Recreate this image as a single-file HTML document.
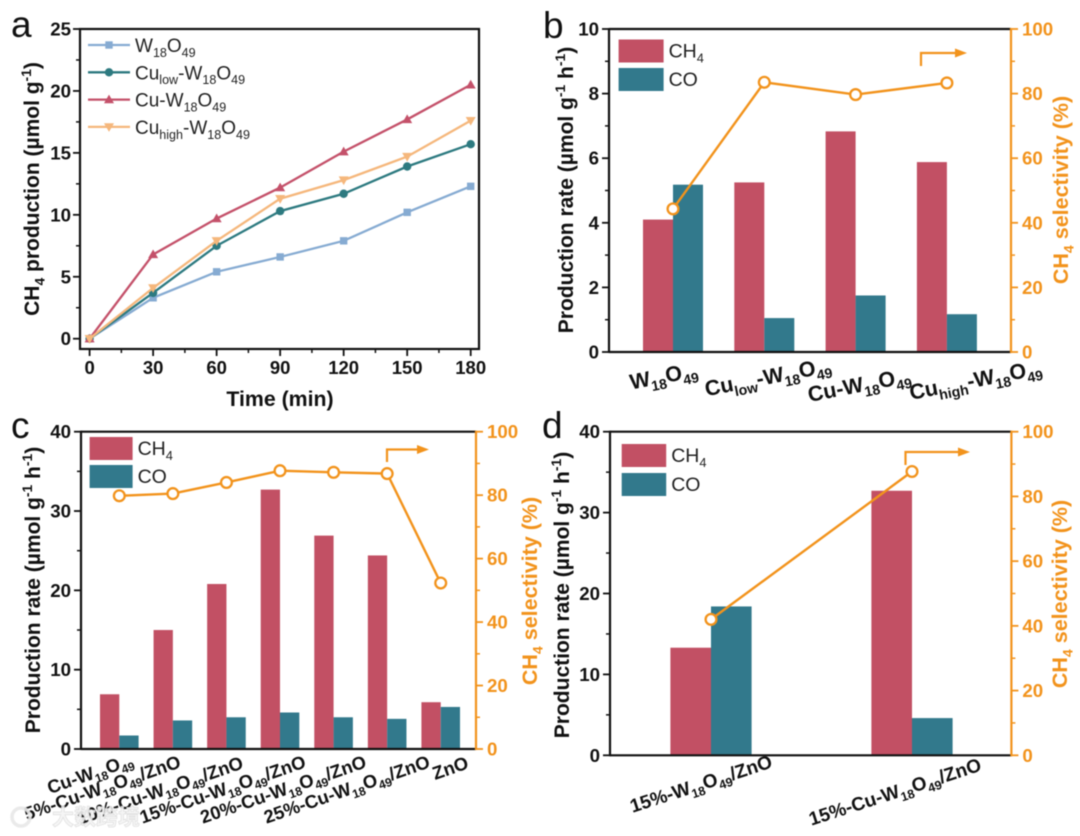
<!DOCTYPE html>
<html lang="en">
<head>
<meta charset="utf-8">
<title>CH4 production and selectivity charts</title>
<style>
html,body{margin:0;padding:0;background:#fff;width:1080px;height:836px;overflow:hidden}
#fig{display:block;filter:blur(0.45px)}
text{font-family:"Liberation Sans","Noto Sans CJK SC",sans-serif}
</style>
</head>
<body>
<svg id="fig" xmlns="http://www.w3.org/2000/svg" width="1080" height="836" viewBox="0 0 1080 836"></svg>
<script>
// ---------- Panel a data ----------
const timeCategories = [0, 30, 60, 90, 120, 150, 180];
const seriesW18O49 = [0, 3.3, 5.4, 6.6, 7.9, 10.2, 12.3];
const seriesCuLow = [0, 3.7, 7.5, 10.3, 11.7, 13.9, 15.7];
const seriesCu = [0, 6.8, 9.7, 12.2, 15.1, 17.7, 20.5];
const seriesCuHigh = [0, 4.1, 7.9, 11.3, 12.8, 14.7, 17.6];
const panelAYTicks = [0, 5, 10, 15, 20, 25];

// ---------- Panel b data ----------
const panelBCategories = ['W_{18}O_{49}', 'Cu_{low}-W_{18}O_{49}', 'Cu-W_{18}O_{49}', 'Cu_{high}-W_{18}O_{49}'];
const panelBCH4 = [4.1, 5.25, 6.83, 5.88];
const panelBCO = [5.18, 1.05, 1.75, 1.17];
const panelBSelectivity = [44.3, 83.5, 79.7, 83.3];
const panelBYTicks = [0, 2, 4, 6, 8, 10];

// ---------- Panel c data ----------
const panelCCategories = ['Cu-W_{18}O_{49}', '5%-Cu-W_{18}O_{49}/ZnO', '10%-Cu-W_{18}O_{49}/ZnO', '15%-Cu-W_{18}O_{49}/ZnO', '20%-Cu-W_{18}O_{49}/ZnO', '25%-Cu-W_{18}O_{49}/ZnO', 'ZnO'];
const panelCCH4 = [6.9, 15, 20.8, 32.7, 26.9, 24.4, 5.9];
const panelCCO = [1.7, 3.6, 4.0, 4.6, 4.0, 3.8, 5.3];
const panelCSelectivity = [79.8, 80.5, 84, 87.7, 87.2, 86.8, 52.3];
const panelCYTicks = [0, 10, 20, 30, 40];

// ---------- Panel d data ----------
const panelDCategories = ['15%-W_{18}O_{49}/ZnO', '15%-Cu-W_{18}O_{49}/ZnO'];
const panelDCH4 = [13.3, 32.7];
const panelDCO = [18.4, 4.6];
const panelDSelectivity = [42, 87.7];
const panelDYTicks = [0, 10, 20, 30, 40];

const selectivityTicks = [0, 20, 40, 60, 80, 100];

const RED = '#c25064', TEAL = '#32798c', ORANGE = '#f2931c', BLACK = '#111';
const NS = 'http://www.w3.org/2000/svg';
const svg = document.getElementById('fig');

function mk(parent, tagName, attrs, name) {
  const el = document.createElementNS(NS, tagName);
  for (const k in attrs) el.setAttribute(k, attrs[k]);
  
  
  parent.appendChild(el);
  return el;
}

// Builds a text node; "_{..}" marks subscript and "^{..}" superscript runs.
function rich(parent, str, attrs, name) {
  const t = mk(parent, 'text', attrs, name);
  const size = parseFloat(attrs['font-size']);
  const small = size * 0.66;
  const shift = size * 0.26;
  const up = size * 0.38;
  let pending = 0;
  str.split(/(_\{[^}]*\}|\^\{[^}]*\})/).forEach(function (part) {
    if (!part) return;
    const ts = document.createElementNS(NS, 'tspan');
    if (part[0] === '_' && part[1] === '{') {
      ts.textContent = part.slice(2, -1);
      ts.setAttribute('font-size', small);
      ts.setAttribute('dy', pending + shift);
      pending = -shift;
    } else if (part[0] === '^' && part[1] === '{') {
      ts.textContent = part.slice(2, -1);
      ts.setAttribute('font-size', small);
      ts.setAttribute('dy', pending - up);
      pending = up;
    } else {
      ts.textContent = part;
      if (pending) ts.setAttribute('dy', pending);
      pending = 0;
    }
    t.appendChild(ts);
  });
  return t;
}

function linear(d0, d1, r0, r1) {
  return function (v) { return r0 + (v - d0) * (r1 - r0) / (d1 - d0); };
}

function line(p, x1, y1, x2, y2, color, w, name) {
  return mk(p, 'line', { x1: x1, y1: y1, x2: x2, y2: y2, stroke: color, 'stroke-width': w }, name);
}

function panelLetter(letter, x, y) {
  const t = mk(svg, 'text', { x: x, y: y, 'font-size': 37, fill: '#111' }, 'panel-label-' + letter);
  t.textContent = letter;
}

function leftAxis(g, cfg, yScale, ticks) {
  line(g, cfg.left, cfg.top - 1, cfg.left, cfg.bottom + 1, BLACK, 2.2, 'left-axis-line');
  ticks.forEach(function (v, i) {
    const y = yScale(v);
    line(g, cfg.left - 7, y, cfg.left, y, BLACK, 1.8, 'y-tick');
    const t = mk(g, 'text', { x: cfg.left - 10, y: y + 6.5, 'font-size': 18.7, 'font-weight': 'bold', 'text-anchor': 'end', fill: BLACK }, 'y-tick-label');
    t.textContent = v;
    if (i < ticks.length - 1) {
      const m = yScale((v + ticks[i + 1]) / 2);
      line(g, cfg.left - 4, m, cfg.left, m, BLACK, 1.5, 'y-minor-tick');
    }
  });
}

function rightAxis(g, cfg, ySel) {
  line(g, cfg.right, cfg.top - 1, cfg.right, cfg.bottom + 1, ORANGE, 2.2, 'right-axis-line');
  selectivityTicks.forEach(function (v, i) {
    const y = ySel(v);
    line(g, cfg.right, y, cfg.right + 7, y, ORANGE, 1.8, 'selectivity-tick');
    const t = mk(g, 'text', { x: cfg.right + 11, y: y + 6.5, 'font-size': 18.7, 'font-weight': 'bold', fill: ORANGE }, 'selectivity-tick-label');
    t.textContent = v;
    if (i < selectivityTicks.length - 1) {
      const m = ySel(v + 10);
      line(g, cfg.right, m, cfg.right + 4, m, ORANGE, 1.5, 'selectivity-minor-tick');
    }
  });
}

function rotatedTitle(g, str, x, y, size, color, name) {
  rich(g, str, { x: x, y: y, 'font-size': size, 'font-weight': 'bold', fill: color, 'text-anchor': 'middle', transform: 'rotate(-90 ' + x + ' ' + y + ')' }, name);
}

function barPanel(cfg) {
  const g = mk(svg, 'g', {}, cfg.name);
  const yBar = linear(0, cfg.yMax, cfg.bottom, cfg.top);
  const ySel = linear(0, 100, cfg.bottom, cfg.top);
  const xCat = function (i) { return cfg.left + cfg.firstOffset + i * cfg.step; };

  cfg.ch4.forEach(function (v, i) {
    const x = xCat(i);
    mk(g, 'rect', { x: x - cfg.barW, y: yBar(v), width: cfg.barW, height: cfg.bottom - yBar(v), fill: RED }, 'bar-ch4');
    mk(g, 'rect', { x: x, y: yBar(cfg.co[i]), width: cfg.barW, height: cfg.bottom - yBar(cfg.co[i]), fill: TEAL }, 'bar-co');
  });

  line(g, cfg.left, cfg.top, cfg.right, cfg.top, BLACK, 2.2, 'top-axis-line');
  line(g, cfg.left, cfg.bottom, cfg.right, cfg.bottom, BLACK, 2.2, 'bottom-axis-line');
  leftAxis(g, cfg, yBar, cfg.yTicks);
  rightAxis(g, cfg, ySel);

  const pts = cfg.sel.map(function (v, i) { return xCat(i) + ',' + ySel(v); }).join(' ');
  mk(g, 'polyline', { points: pts, fill: 'none', stroke: ORANGE, 'stroke-width': 2.4 }, 'selectivity-line');
  cfg.sel.forEach(function (v, i) {
    mk(g, 'circle', { cx: xCat(i), cy: ySel(v), r: 5.4, fill: '#fff', stroke: ORANGE, 'stroke-width': 2.3 }, 'selectivity-point');
  });

  // Direction arrow pointing at the right-hand axis
  mk(g, 'polyline', { points: cfg.arrowX0 + ',' + cfg.arrowY0 + ' ' + cfg.arrowX0 + ',' + cfg.arrowY1 + ' ' + (cfg.arrowX1 - 8) + ',' + cfg.arrowY1, fill: 'none', stroke: ORANGE, 'stroke-width': 2.2 }, 'selectivity-arrow');
  mk(g, 'polygon', { points: (cfg.arrowX1 - 12) + ',' + (cfg.arrowY1 - 4.5) + ' ' + cfg.arrowX1 + ',' + cfg.arrowY1 + ' ' + (cfg.arrowX1 - 12) + ',' + (cfg.arrowY1 + 4.5), fill: ORANGE }, 'selectivity-arrow-head');

  // Legend
  const lg = mk(g, 'g', {}, 'legend');
  mk(lg, 'rect', { x: cfg.legX, y: cfg.legY1, width: cfg.legW, height: 23, fill: RED }, 'legend-swatch-ch4');
  mk(lg, 'rect', { x: cfg.legX, y: cfg.legY2, width: cfg.legW, height: 23, fill: TEAL }, 'legend-swatch-co');
  rich(lg, 'CH_{4}', { x: cfg.legX + cfg.legW + 5, y: cfg.legY1 + 18, 'font-size': 19.5, fill: '#222' }, 'legend-label-ch4');
  rich(lg, 'CO', { x: cfg.legX + cfg.legW + 5, y: cfg.legY2 + 18, 'font-size': 19.5, fill: '#222' }, 'legend-label-co');

  // Category labels
  cfg.categories.forEach(function (c, i) {
    const px = xCat(i) + cfg.labelDx[i];
    const py = cfg.labelY[i];
    rich(g, c, { x: px, y: py, 'font-size': cfg.labelSize, 'font-weight': 'bold', fill: BLACK, 'text-anchor': cfg.labelAnchor, transform: 'rotate(' + cfg.labelAngle + ' ' + px + ' ' + py + ')' }, 'category-label');
  });

  rotatedTitle(g, 'Production rate (µmol g^{-1} h^{-1})', cfg.titleX, cfg.titleY, 21, BLACK, 'y-axis-title');
  rotatedTitle(g, 'CH_{4} selectivity (%)', cfg.rightTitleX, cfg.rightTitleY, 21.5, ORANGE, 'selectivity-axis-title');
}

// ---------- Panel a ----------
(function () {
  const g = mk(svg, 'g', {}, 'panel-a');
  const left = 80, right = 479, top = 29, bottom = 349;
  const x = linear(0, 180, 89.6, 470.7);
  const y = linear(0, 25, 338.7, 29);
  mk(g, 'rect', { x: left, y: top, width: right - left, height: bottom - top, fill: 'none', stroke: BLACK, 'stroke-width': 2.2 }, 'plot-frame');
  panelAYTicks.forEach(function (v, i) {
    line(g, left - 7, y(v), left, y(v), BLACK, 1.8, 'y-tick');
    const t = mk(g, 'text', { x: 71, y: y(v) + 6.5, 'font-size': 18.7, 'font-weight': 'bold', 'text-anchor': 'end', fill: BLACK }, 'y-tick-label');
    t.textContent = v;
    if (i < panelAYTicks.length - 1) {
      line(g, left - 4, y(v + 2.5), left, y(v + 2.5), BLACK, 1.5, 'y-minor-tick');
    }
  });
  timeCategories.forEach(function (v, i) {
    line(g, x(v), bottom, x(v), bottom + 7, BLACK, 1.8, 'x-tick');
    const t = mk(g, 'text', { x: x(v), y: 374, 'font-size': 18.5, 'font-weight': 'bold', 'text-anchor': 'middle', fill: BLACK }, 'x-tick-label');
    t.textContent = v;
    if (i < timeCategories.length - 1) {
      line(g, x(v + 15), bottom, x(v + 15), bottom + 4, BLACK, 1.5, 'x-minor-tick');
    }
  });

  function marker(p, shape, cx, cy, color, name) {
    if (shape === 'square') return mk(p, 'rect', { x: cx - 3.7, y: cy - 3.7, width: 7.4, height: 7.4, fill: color }, name);
    if (shape === 'circle') return mk(p, 'circle', { cx: cx, cy: cy, r: 4.2, fill: color }, name);
    if (shape === 'up') return mk(p, 'polygon', { points: cx + ',' + (cy - 5) + ' ' + (cx + 5) + ',' + (cy + 3.7) + ' ' + (cx - 5) + ',' + (cy + 3.7), fill: color }, name);
    return mk(p, 'polygon', { points: cx + ',' + (cy + 5) + ' ' + (cx + 5) + ',' + (cy - 3.7) + ' ' + (cx - 5) + ',' + (cy - 3.7), fill: color }, name);
  }

  const series = [
    { vals: seriesW18O49, color: '#86abd2', shape: 'square', label: 'W_{18}O_{49}', key: 'w18o49' },
    { vals: seriesCuLow, color: '#2d7a80', shape: 'circle', label: 'Cu_{low}-W_{18}O_{49}', key: 'cu-low' },
    { vals: seriesCu, color: '#c4516a', shape: 'up', label: 'Cu-W_{18}O_{49}', key: 'cu' },
    { vals: seriesCuHigh, color: '#f5b77c', shape: 'down', label: 'Cu_{high}-W_{18}O_{49}', key: 'cu-high' }
  ];
  series.forEach(function (s, si) {
    const sg = mk(g, 'g', {}, 'series-' + s.key);
    const pts = s.vals.map(function (v, i) { return x(timeCategories[i]) + ',' + y(v); }).join(' ');
    mk(sg, 'polyline', { points: pts, fill: 'none', stroke: s.color, 'stroke-width': 2.3 }, 'line-' + s.key);
    s.vals.forEach(function (v, i) {
      marker(sg, s.shape, x(timeCategories[i]), y(v), s.color, 'point-' + s.key);
    });
    const ly = 45 + si * 27.3;
    const lg = mk(g, 'g', {}, 'legend-entry-' + s.key);
    line(lg, 88, ly, 130, ly, s.color, 2.3, 'legend-line');
    marker(lg, s.shape, 109, ly, s.color, 'legend-marker');
    rich(lg, s.label, { x: 135, y: ly + 7, 'font-size': 19, fill: '#222' }, 'legend-label');
  });

  const tx = mk(g, 'text', { x: 280, y: 406, 'font-size': 21.3, 'font-weight': 'bold', 'text-anchor': 'middle', fill: BLACK }, 'x-axis-title');
  tx.textContent = 'Time (min)';
  rotatedTitle(g, 'CH_{4} production (µmol g^{-1})', 39, 189, 21, BLACK, 'y-axis-title');
})();

// ---------- Panels b, c, d ----------
barPanel({
  name: 'panel-b', left: 609, right: 1011, top: 29, bottom: 352, yMax: 10, yTicks: panelBYTicks,
  firstOffset: 64, step: 91.3, barW: 30,
  categories: panelBCategories, ch4: panelBCH4, co: panelBCO, sel: panelBSelectivity,
  arrowX0: 921, arrowY0: 66, arrowY1: 53, arrowX1: 967,
  legX: 618.6, legW: 45, legY1: 39.5, legY2: 68,
  labelDx: [-8, 5, 5, 30], labelY: [383, 384, 392, 387], labelAngle: -11, labelAnchor: 'middle', labelSize: 21.5,
  titleX: 573, titleY: 190, rightTitleX: 1068, rightTitleY: 190
});
barPanel({
  name: 'panel-c', left: 81, right: 476, top: 431.7, bottom: 749, yMax: 40, yTicks: panelCYTicks,
  firstOffset: 38.3, step: 53.57, barW: 19.3,
  categories: panelCCategories, ch4: panelCCH4, co: panelCCO, sel: panelCSelectivity,
  arrowX0: 387, arrowY0: 462, arrowY1: 449.5, arrowX1: 429,
  legX: 89.6, legW: 43, legY1: 437, legY2: 465,
  labelDx: [15, 9, 18, 27, 34, 44, 29], labelY: [765, 767, 768, 767, 767, 767, 768], labelAngle: -19, labelAnchor: 'end', labelSize: 18.4,
  titleX: 40, titleY: 590, rightTitleX: 537, rightTitleY: 591
});
barPanel({
  name: 'panel-d', left: 610, right: 1011.4, top: 431.7, bottom: 755.3, yMax: 40, yTicks: panelDYTicks,
  firstOffset: 101, step: 201, barW: 40.6,
  categories: panelDCategories, ch4: panelDCH4, co: panelDCO, sel: panelDSelectivity,
  arrowX0: 905.5, arrowY0: 465, arrowY1: 452, arrowX1: 970,
  legX: 621.7, legW: 44.5, legY1: 444, legY2: 473,
  labelDx: [-8, -15], labelY: [790, 798], labelAngle: -18, labelAnchor: 'middle', labelSize: 19,
  titleX: 569, titleY: 595, rightTitleX: 1067, rightTitleY: 594
});

panelLetter('a', 11, 37);
panelLetter('b', 543, 38);
panelLetter('c', 11, 438);
panelLetter('d', 542, 438);

// ---------- Watermark ----------
const wm = mk(svg, 'g', { opacity: 0.9 }, 'watermark');
mk(wm, 'circle', { cx: 21, cy: 817, r: 9, fill: 'none', stroke: '#e8e8e8', 'stroke-width': 3.5 }, 'watermark-icon');
const wmText = mk(wm, 'text', { x: 52, y: 825, 'font-size': 22, 'font-weight': 'bold', fill: '#f4f4f4', stroke: '#dcdcdc', 'stroke-width': 0.7 }, 'watermark-text');
wmText.textContent = '大数跨境';
</script>
</body>
</html>
